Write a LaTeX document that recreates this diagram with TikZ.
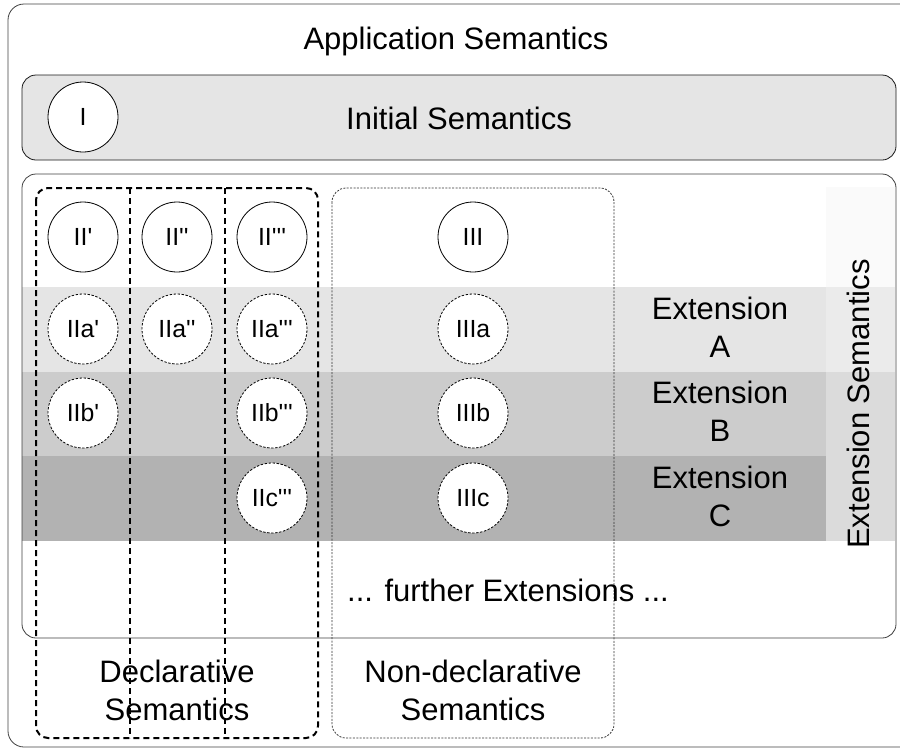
\documentclass[tikz,border=0pt]{standalone}
\usepackage{fontspec}
\setmainfont{Liberation Sans}
\newfontfamily\plainsans{Liberation Sans}
\usetikzlibrary{positioning}

\begin{document}
\begin{tikzpicture}[
  x = 0.5pt,
  y = -0.5pt,
  sem/.style = {
    draw,
    circle,
    thin,
    fill = white,
    minimum size = 35pt,
    inner sep = 0pt,
    font = \plainsans\fontsize{12.4}{14}\selectfont,
  },
  extsem/.style = {
    sem,
    dash pattern = on 1.2pt off 0.8pt,
  },
  lbl/.style = {
    align = center,
    inner sep = 0pt,
    font = \fontsize{15.5}{19}\selectfont,
  },
  panel/.style = {
    draw = black!75,
    rounded corners = 7pt,
  },
  declline/.style = {
    line width = 1pt,
    dash pattern = on 3pt off 2pt,
  },
]

  \useasboundingbox (0,0) rectangle (900,751);
  \clip (0,0) rectangle (900,751);

  % frames
  \draw[panel, rounded corners=8pt] (8,4) rectangle (920,747);
  \draw[panel, draw=black!90, fill=black!10] (22,75) rectangle (896,160);
  \fill[white, rounded corners=7pt] (22,174) rectangle (896,638);

  % extension bands
  \fill[black!10] (22,287) rectangle (826,372);
  \fill[black!20] (22,372) rectangle (826,456);
  \fill[black!30] (22,456) rectangle (826,541);
  \fill[black!2] (826,187) rectangle (895,287);
  \fill[black!8] (826,287) rectangle (895,372);
  \fill[black!14] (826,372) rectangle (895,541);
  \draw[panel] (22,174) rectangle (896,638);

  % groups
  \draw[declline, rounded corners=6pt] (36,188) rectangle (318,738);
  \draw[declline] (130,188) -- (130,738);
  \draw[declline] (225,188) -- (225,738);
  \draw[black!80, dash pattern=on 1pt off 0.7pt, rounded corners=7pt]
    (332,188) rectangle (614,738);

  \node[lbl] (app) at (456,41) {Application Semantics};

  \node[sem] (i) at (83,117) {I};
  \node[lbl] (init) at (459,118) {Initial Semantics};

  \node[sem] (ii1) at (83,237) {II'};
  \node[sem] (ii2) at (177,237) {II''};
  \node[sem] (ii3) at (272,237) {II'''};
  \node[sem] (iii) at (473,237) {III};

  \node[extsem] (iia1) at (83,329) {IIa'};
  \node[extsem] (iia2) at (177,329) {IIa''};
  \node[extsem] (iia3) at (272,329) {IIa'''};
  \node[extsem] (iiia) at (473,329) {IIIa};

  \node[extsem] (iib1) at (83,413) {IIb'};
  \node[extsem] (iib3) at (272,413) {IIb'''};
  \node[extsem] (iiib) at (473,413) {IIIb};

  \node[extsem] (iic3) at (272,498) {IIc'''};
  \node[extsem] (iiic) at (473,498) {IIIc};

  \node[lbl] (exta) at (720,327) {Extension\\A};
  \node[lbl] (extb) at (720,411) {Extension\\B};
  \node[lbl] (extc) at (720,496) {Extension\\C};
  \node[lbl, rotate=90] (extsems) at (858,404) {Extension Semantics};

  \node[lbl] (further) at (508,590) {... further Extensions ...};
  \node[lbl] (decl) at (177,690) {Declarative\\Semantics};
  \node[lbl] (nondecl) at (473,690) {Non-declarative\\Semantics};
\end{tikzpicture}
\end{document}
